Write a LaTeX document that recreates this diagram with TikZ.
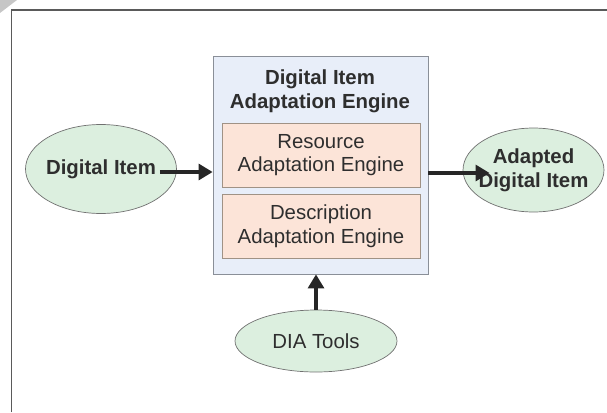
\documentclass[tikz,border=0pt]{standalone}
\usepackage{fontspec}
\setmainfont{Liberation Sans}
\usepackage{tikz}
\usetikzlibrary{arrows.meta, calc, positioning, shapes.geometric}

\definecolor{engfill}{HTML}{E8EEF9}
\definecolor{engline}{HTML}{8A8F98}
\definecolor{subfill}{HTML}{FCE4D8}
\definecolor{subline}{HTML}{A09285}
\definecolor{itemfill}{HTML}{DCEFDF}
\definecolor{itemline}{HTML}{707070}
\definecolor{txt}{HTML}{2E2E2E}
\definecolor{framec}{HTML}{5A5A5A}

\tikzset{
  lbl/.style={font=\fontsize{11.6}{13.5}\selectfont, text=txt, align=center},
  item/.style={lbl, ellipse, draw=itemline, fill=itemfill, inner sep=0pt, thin},
  subengine/.style={lbl, draw=subline, fill=subfill, minimum width=3.96cm, minimum height=1.28cm, inner sep=0pt, thin},
  flow/.style={line width=2.3pt, draw=black!85, -{Triangle[length=8pt, width=9pt]}}
}

\begin{document}
\begin{tikzpicture}[x=0.02cm, y=-0.02cm]
\useasboundingbox (0,0) rectangle (607,412);
\fill[gray!45] (0,0) -- (17,0) -- (0,13) -- cycle;
\draw[framec, line width=1.1pt] (11.5,412) -- (11.5,10) -- (607,10);
% engine box
\node[draw=engline, fill=engfill, minimum width=4.3cm, minimum height=4.36cm, thin] (engine) at (320.5,165) {};
\node[lbl, font=\fontsize{11.6}{13.5}\selectfont\bfseries] (title) at (320,91) {Digital Item\\Adaptation Engine};
\node[subengine] (resource) at (321,155) {Resource\\Adaptation Engine};
\node[subengine] (description) at (321,226) {Description\\Adaptation Engine};
% items
\node[item, font=\fontsize{11.6}{13.5}\selectfont\bfseries, inner xsep=-1.5pt, minimum width=3.02cm, minimum height=1.78cm] (di) at (101,169) {Digital Item};
\node[item, font=\fontsize{11.6}{13.5}\selectfont\bfseries, inner xsep=-3pt, minimum width=2.82cm, minimum height=1.68cm] (adi) at (533.5,170) {Adapted\\Digital Item};
\node[item, minimum width=3.24cm, minimum height=1.24cm] (tools) at (316,341) {DIA Tools};
% arrows
\draw[flow] ([xshift=-0.34cm, yshift=-0.06cm]di.east) -- ([yshift=-0.06cm]engine.west |- di);
\draw[flow] ([yshift=-0.06cm]engine.east |- adi) -- ([xshift=0.54cm, yshift=-0.06cm]adi.west);
\draw[flow] (tools.north) -- (tools.north |- engine.south);
\end{tikzpicture}
\end{document}
